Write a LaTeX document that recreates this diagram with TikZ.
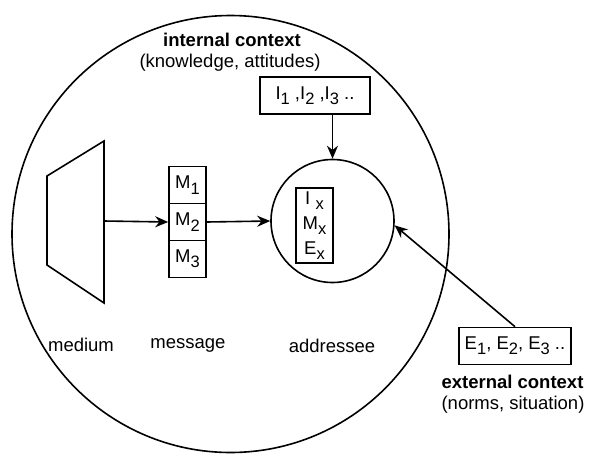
\documentclass[tikz,border=0pt]{standalone}
\usepackage{fontspec}
\setmainfont{Liberation Sans}
\usetikzlibrary{arrows.meta}
\newcommand{\lowsub}[1]{\raisebox{-0.55ex}{\fontsize{16.5}{16.5}\selectfont #1}}

\begin{document}
\begin{tikzpicture}[x=1pt, y=-1pt, line width=1.6pt,
    >={Stealth[length=13pt, width=11pt]},
    every node/.style={font=\fontsize{18.5}{25}\selectfont}]
    \tikzstyle{box}=[draw, inner sep=0pt, minimum height=37pt]
    \tikzstyle{ring}=[draw, circle, inner sep=0pt]
    \tikzstyle{head}=[inner sep=0pt, font=\fontsize{18.5}{25}\selectfont\bfseries]
    \tikzstyle{txt}=[inner sep=0pt]

    \useasboundingbox (0,0) rectangle (591,455);

    \node[ring, minimum size=437pt] (context) at (230.5,234) {};

    % medium
    \draw (47,176) -- (104,141) -- (104,303) -- (47,265) -- cycle;
    \coordinate (medium) at (104,221);

    % message
    \node[box, minimum width=37pt] (m1) at (187.5,185) {M\lowsub{1}};
    \node[box, minimum width=37pt] (m2) at (187.5,222) {M\lowsub{2}};
    \node[box, minimum width=37pt] (m3) at (187.5,259) {M\lowsub{3}};

    % addressee
    \node[ring, minimum size=123pt] (addr) at (332.5,221) {};
    \node[box, minimum width=37pt, minimum height=75pt, align=center] (inner) at (314.5,225.5)
        {I\hspace{0.3em}\lowsub{x}\\M\lowsub{x}\\E\lowsub{x}};

    \node[box, minimum width=110pt] (ibox) at (315,95.5) {I\lowsub{1} ,I\lowsub{2} ,I\lowsub{3} ..};
    \node[box, minimum width=112pt] (ebox) at (515,346) {E\lowsub{1}, E\lowsub{2}, E\lowsub{3} ..};

    \node[head] (inthead) at (232,40) {internal context};
    \node[txt] (intsub) at (230,63) {(knowledge, attitudes)};
    \node[head] (exthead) at (512.5,382) {external context};
    \node[txt] (extsub) at (513,405) {(norms, situation)};

    \node[txt] (medlabel) at (81,345) {medium};
    \node[txt] (msglabel) at (188,345) {message};
    \node[txt] (addrlabel) at (332,346) {addressee};

    \path (medium) edge[->] (m2.west);
    \path (m2.east) edge[->] (addr.west);
    \draw[->] (addr.north |- ibox.south) -- (addr.north);
    \path (ebox.north) edge[->] (addr.-4);
\end{tikzpicture}
\end{document}
